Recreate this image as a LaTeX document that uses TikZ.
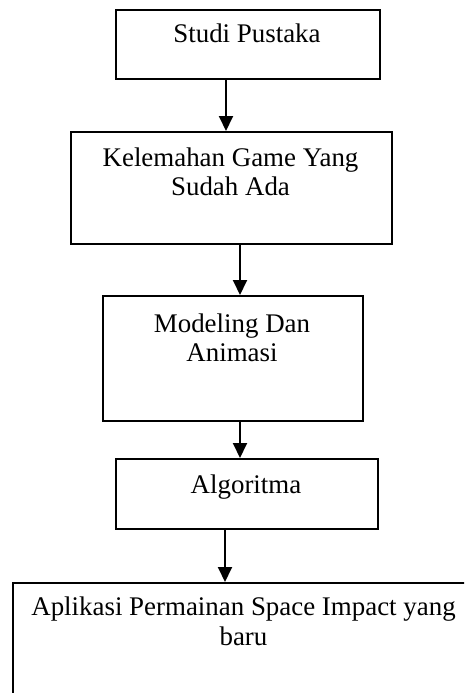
\documentclass[tikz,border=0pt]{standalone}
\usepackage{fontspec}
\setmainfont{Liberation Serif}
\usetikzlibrary{arrows.meta}
\begin{document}
\begin{tikzpicture}[x=1pt,y=-1pt,
  box/.style={draw,line width=1.9pt,rectangle,inner sep=0pt,anchor=north west},
  lbl/.style={font=\fontsize{26.9}{29.5}\selectfont,anchor=base,inner sep=0pt},
  arr/.style={line width=1.9pt,-{Triangle[width=14pt,length=15pt]}}]
\useasboundingbox (0,0) rectangle (464,693);
\clip (0,0) rectangle (464,693);
\node[box,minimum width=264pt,minimum height=69pt] (b1) at (115,9) {};
\node[box,minimum width=321pt,minimum height=112pt] (b2) at (70,131) {};
\node[box,minimum width=260pt,minimum height=125pt] (b3) at (102,295) {};
\node[box,minimum width=262pt,minimum height=70pt] (b4) at (115,458) {};
\node[box,minimum width=463pt,minimum height=150pt] (b5) at (12,582) {};
\node[lbl] (t1) at (247,43) {Studi Pustaka};
\node[lbl] (t2a) at (230.5,166) {Kelemahan Game Yang};
\node[lbl] (t2b) at (230.5,195) {Sudah Ada};
\node[lbl] (t3a) at (232,332) {Modeling Dan};
\node[lbl] (t3b) at (232,361) {Animasi};
\node[lbl] (t4) at (246,493) {Algoritma};
\node[lbl] (t5a) at (243.5,615) {Aplikasi Permainan Space Impact yang};
\node[lbl] (t5b) at (243.5,645) {baru};
\coordinate (ax1) at (226,0);
\coordinate (ax2) at (240,0);
\coordinate (ax4) at (225,0);
\draw[arr] (b1.south -| ax1) -- (b2.north -| ax1);
\draw[arr] (b2.south -| ax2) -- (b3.north -| ax2);
\draw[arr] (b3.south -| ax2) -- (b4.north -| ax2);
\draw[arr] (b4.south -| ax4) -- (b5.north -| ax4);
\end{tikzpicture}
\end{document}
